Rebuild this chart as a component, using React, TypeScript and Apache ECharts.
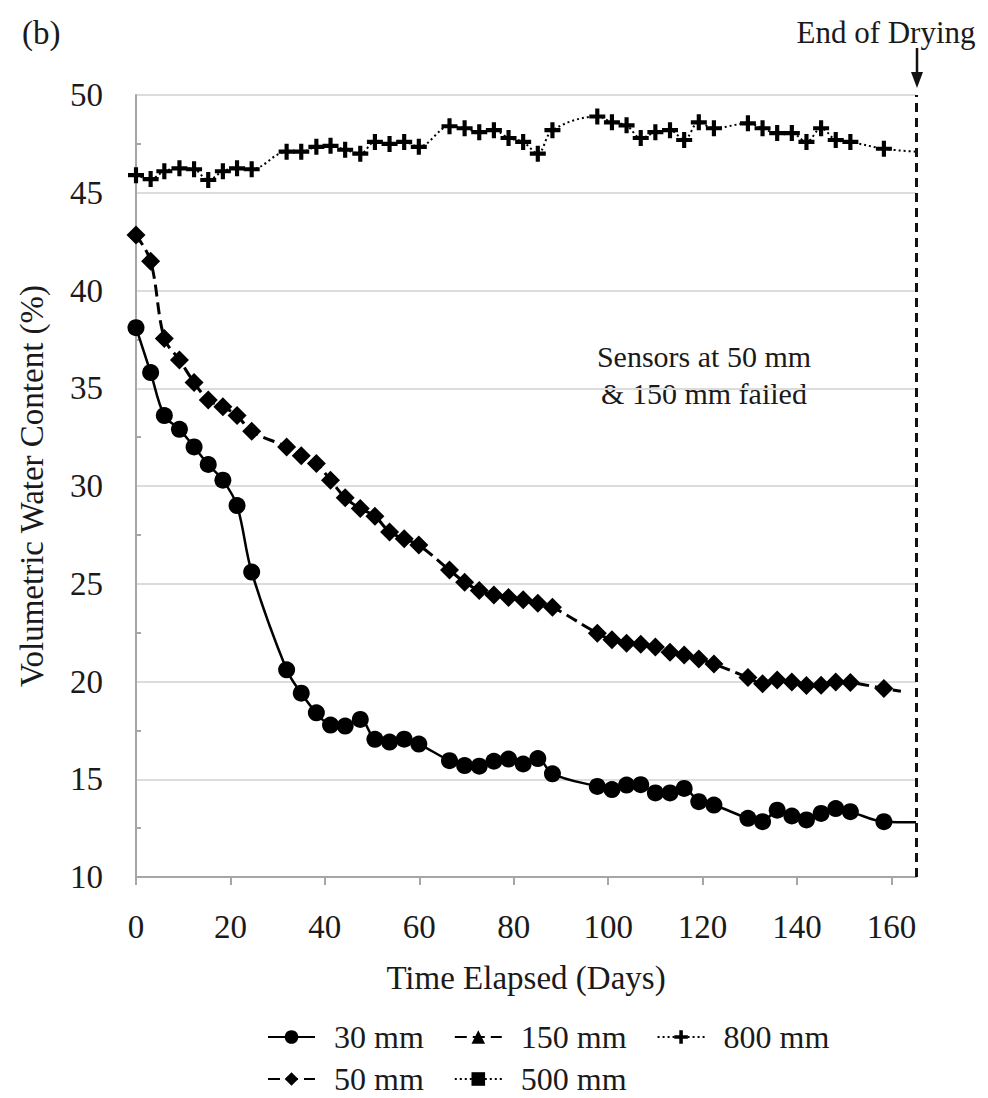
import React, { useEffect, useRef } from "react";
import * as echarts from "echarts";

// Days at which readings were plotted (shared by all sensors)
const DAYS = [0, 3.1, 6, 9.2, 12.3, 15.3, 18.4, 21.4, 24.5, 31.9, 35, 38.2, 41.2, 44.3, 47.5, 50.6, 53.7, 56.8, 59.9, 66.4, 69.6, 72.7, 75.8, 78.9, 82, 85.1, 88.2, 97.7, 100.8, 103.9, 106.9, 110, 113.1, 116.1, 119.2, 122.4, 129.6, 132.7, 135.8, 138.9, 142, 145.1, 148.2, 151.3, 158.4];

const VWC_30 = [38.1, 35.8, 33.6, 32.9, 32.0, 31.1, 30.3, 29.0, 25.6, 20.6, 19.4, 18.4, 17.77, 17.72, 18.06, 17.04, 16.9, 17.05, 16.8, 15.95, 15.7, 15.67, 15.92, 16.03, 15.78, 16.06, 15.28, 14.63, 14.47, 14.7, 14.72, 14.3, 14.3, 14.53, 13.85, 13.68, 13.0, 12.83, 13.42, 13.12, 12.92, 13.25, 13.5, 13.34, 12.83];
const VWC_50 = [42.84, 41.5, 37.55, 36.45, 35.3, 34.4, 34.05, 33.6, 32.8, 32.0, 31.55, 31.15, 30.3, 29.4, 28.85, 28.45, 27.65, 27.3, 26.98, 25.7, 25.08, 24.65, 24.42, 24.3, 24.18, 24.0, 23.8, 22.47, 22.13, 21.96, 21.9, 21.76, 21.5, 21.35, 21.15, 20.9, 20.2, 19.88, 20.08, 19.98, 19.8, 19.81, 19.98, 19.95, 19.64];
const VWC_800 = [45.9, 45.7, 46.1, 46.25, 46.2, 45.65, 46.1, 46.25, 46.2, 47.1, 47.1, 47.35, 47.4, 47.2, 47.0, 47.6, 47.5, 47.6, 47.35, 48.4, 48.3, 48.1, 48.2, 47.8, 47.6, 47.0, 48.2, 48.9, 48.6, 48.45, 47.8, 48.1, 48.2, 47.7, 48.6, 48.3, 48.55, 48.3, 48.05, 48.05, 47.6, 48.3, 47.7, 47.6, 47.25];

// Line continuation (no marker) after the last plotted reading
const END_30 = [165.2, 12.8];
const END_50 = [162, 19.5];
const END_800 = [165.2, 47.1];

const END_OF_DRYING_DAY = 165.2;
const X_TICKS = { min: 0, max: 165.2, interval: 20 };
const Y_TICKS = { min: 10, max: 50, interval: 5 };

const LEGEND_ROW1 = ["30 mm", "150 mm", "800 mm"];
const LEGEND_ROW2 = ["50 mm", "500 mm"];

const FONT = "'Liberation Serif', 'Times New Roman', serif";
const PLUS = "path://M3.7,0H6.3V3.7H10V6.3H6.3V10H3.7V6.3H0V3.7H3.7Z";

function build(days: number[], vals: number[], end: number[]) {
  const out: any[] = days.map((d, i) => [d, vals[i]]);
  out.push({ value: end, symbol: "none" });
  return out;
}

export default function App() {
  const ref = useRef<HTMLDivElement>(null);
  useEffect(() => {
    document.body.style.margin = "0";
    if (!ref.current) return;
    const chart = echarts.init(ref.current, null, { renderer: "svg" });
    const legendCommon = {
      left: 262,
      itemWidth: 47,
      itemHeight: 17,
      itemGap: 30,
      textStyle: { fontSize: 32, color: "#1a1a1a", fontFamily: FONT, padding: [0, 0, 0, 14] },
    };
    const option: any = {
      animation: false,
      backgroundColor: "#ffffff",
      textStyle: { fontFamily: FONT },
      grid: { left: 136, right: 72, top: 95, bottom: 221 },
      xAxis: {
        type: "value",
        min: X_TICKS.min,
        max: X_TICKS.max,
        interval: X_TICKS.interval,
        name: "Time Elapsed (Days)",
        nameLocation: "middle",
        nameGap: 84,
        nameTextStyle: { fontSize: 33, color: "#1a1a1a", fontFamily: FONT },
        axisLine: { show: true, onZero: false, lineStyle: { color: "#a6a6a6", width: 2 } },
        axisTick: { show: true, length: 8, lineStyle: { color: "#a6a6a6", width: 2 } },
        axisLabel: { showMaxLabel: false, fontSize: 33, color: "#1a1a1a", margin: 33, fontFamily: FONT },
        splitLine: { show: false },
      },
      yAxis: {
        type: "value",
        min: Y_TICKS.min,
        max: Y_TICKS.max,
        interval: Y_TICKS.interval,
        name: "Volumetric Water Content (%)",
        nameLocation: "middle",
        nameGap: 88,
        nameTextStyle: { fontSize: 33, color: "#1a1a1a", fontFamily: FONT },
        axisLine: { show: true, lineStyle: { color: "#a6a6a6", width: 2 } },
        axisTick: { show: false, inside: true },
        minorTick: { show: true, splitNumber: 2, length: 5, lineStyle: { color: "#a6a6a6", width: 2 } },
        axisLabel: { fontSize: 33, color: "#1a1a1a", margin: 33, fontFamily: FONT },
        splitLine: { show: true, lineStyle: { color: "#dcdcdc", width: 2 } },
      },
      legend: [
        { ...legendCommon, top: 1016, data: LEGEND_ROW1 },
        { ...legendCommon, top: 1058, data: LEGEND_ROW2 },
      ],
      series: [
        {
          name: "30 mm",
          type: "line",
          data: build(DAYS, VWC_30, END_30),
          symbol: "circle",
          symbolSize: 17,
          smooth: 0.35,
          lineStyle: { color: "#000", width: 2.5 },
          itemStyle: { color: "#000" },
          z: 3,
          markLine: {
            silent: true,
            symbol: ["none", "none"],
            label: { show: false },
            lineStyle: { color: "#111", width: 3, type: [9, 6] },
            data: [{ xAxis: END_OF_DRYING_DAY }],
          },
        },
        {
          name: "150 mm",
          type: "line",
          data: [],
          symbol: "triangle",
          symbolSize: 16,
          lineStyle: { color: "#000", width: 3, type: [12, 6] },
          itemStyle: { color: "#000" },
        },
        {
          name: "800 mm",
          type: "line",
          data: build(DAYS, VWC_800, END_800),
          symbol: PLUS,
          symbolSize: 16,
          smooth: 0.35,
          lineStyle: { color: "#000", width: 2, type: [2, 3] },
          itemStyle: { color: "#000" },
          z: 3,
        },
        {
          name: "50 mm",
          type: "line",
          data: build(DAYS, VWC_50, END_50),
          symbol: "diamond",
          symbolSize: 19,
          smooth: 0.35,
          lineStyle: { color: "#000", width: 3, type: [12, 6] },
          itemStyle: { color: "#000" },
          z: 3,
        },
        {
          name: "500 mm",
          type: "line",
          data: [],
          symbol: "rect",
          symbolSize: 15,
          lineStyle: { color: "#000", width: 2, type: [2, 3] },
          itemStyle: { color: "#000" },
        },
      ],
      graphic: [
        {
          type: "text",
          left: 22,
          top: 16,
          style: { text: "(b)", fontSize: 33, fill: "#1a1a1a", fontFamily: FONT },
        },
        {
          type: "text",
          x: 886,
          y: 32,
          style: { text: "End of Drying", fontSize: 31, fill: "#1a1a1a", fontFamily: FONT, textAlign: "center", textVerticalAlign: "middle" },
        },
        {
          type: "line",
          shape: { x1: 917, y1: 48, x2: 917, y2: 76 },
          style: { stroke: "#111", lineWidth: 2.5 },
        },
        {
          type: "polygon",
          shape: { points: [[911, 72], [923, 72], [917, 88]] },
          style: { fill: "#111" },
        },
        {
          type: "text",
          x: 704,
          y: 375,
          style: {
            text: "Sensors at 50 mm\n& 150 mm failed",
            fontSize: 30,
            lineHeight: 37,
            fill: "#1a1a1a",
            fontFamily: FONT,
            textAlign: "center",
            textVerticalAlign: "middle",
          },
        },
      ],
    };
    chart.setOption(option);
    return () => chart.dispose();
  }, []);
  return <div ref={ref} style={{ width: 988, height: 1098 }} />;
}
